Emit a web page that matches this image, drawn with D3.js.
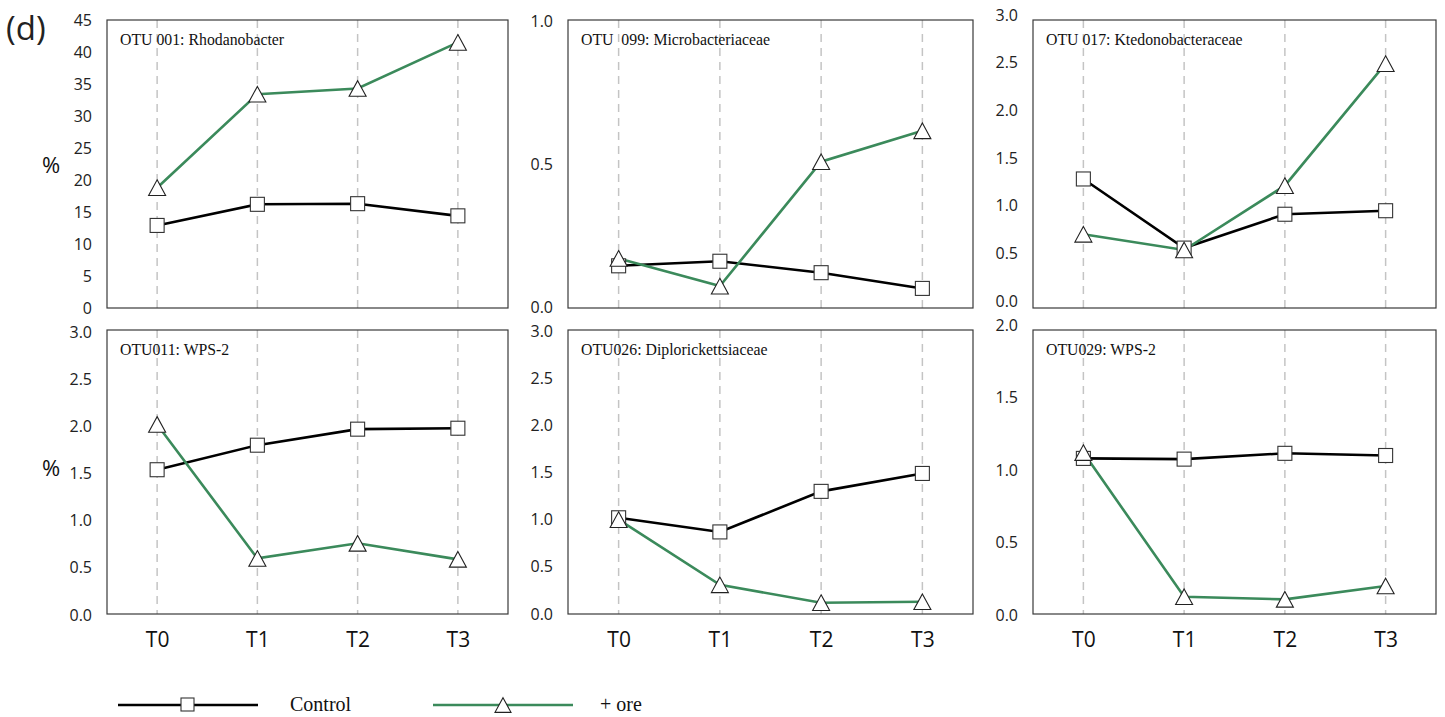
<!DOCTYPE html>
<html>
<head>
<meta charset="utf-8">
<script src="https://cdn.jsdelivr.net/npm/d3@7"></script>
<style>
  html, body { margin: 0; padding: 0; background: #fff; }
  svg { display: block; }
</style>
</head>
<body>
<svg id="chart" width="1445" height="717"></svg>
<script>
// ---------- data ----------
const timePoints = ["T0", "T1", "T2", "T3"];
const panelTitles = [
  "OTU 001: Rhodanobacter",
  "OTU  099: Microbacteriaceae",
  "OTU 017: Ktedonobacteraceae",
  "OTU011: WPS-2",
  "OTU026: Diplorickettsiaceae",
  "OTU029: WPS-2"
];
const controlOTU001 = [12.9, 16.2, 16.3, 14.4];
const oreOTU001     = [18.8, 33.4, 34.3, 41.5];
const controlOTU099 = [0.144, 0.160, 0.120, 0.065];
const oreOTU099     = [0.170, 0.073, 0.508, 0.616];
const controlOTU017 = [1.28, 0.555, 0.91, 0.947];
const oreOTU017     = [0.70, 0.535, 1.21, 2.49];
const controlOTU011 = [1.54, 1.80, 1.97, 1.98];
const oreOTU011     = [2.02, 0.60, 0.76, 0.59];
const controlOTU026 = [1.02, 0.87, 1.30, 1.49];
const oreOTU026     = [1.00, 0.31, 0.12, 0.13];
const controlOTU029 = [1.08, 1.075, 1.115, 1.10];
const oreOTU029     = [1.12, 0.126, 0.108, 0.20];
const yMaxes   = [45, 1, 3, 3, 3, 2];
const yTicks = [
  [0, 5, 10, 15, 20, 25, 30, 35, 40, 45],
  [0, 0.5, 1],
  [0, 0.5, 1, 1.5, 2, 2.5, 3],
  [0, 0.5, 1, 1.5, 2, 2.5, 3],
  [0, 0.5, 1, 1.5, 2, 2.5, 3],
  [0, 0.5, 1, 1.5, 2]
];
const seriesNames = ["Control", "+ ore"];
const controlSets = [controlOTU001, controlOTU099, controlOTU017, controlOTU011, controlOTU026, controlOTU029];
const oreSets     = [oreOTU001, oreOTU099, oreOTU017, oreOTU011, oreOTU026, oreOTU029];

// ---------- layout ----------
const colX = [[107, 508], [568, 973], [1033, 1436]];
const rowY = [[20, 308], [330, 614]];
// pixel positions of y-axis min and max for each panel (as drawn in the source)
const yPix = [[308, 20], [307, 21], [301, 15], [615, 332], [614, 331], [615, 325]];
const GREEN = "#3b8a5b";
const AXIS_FONT = "'Open Sans', 'Noto Sans', sans-serif";
const SERIF = "'Liberation Serif', 'Times New Roman', serif";

const svg = d3.select("#chart");

function trianglePath(s) {
  const w = s, h = s * 0.92;
  return `M0,${-h/2}L${w/2},${h/2}L${-w/2},${h/2}Z`;
}

for (let i = 0; i < 6; i++) {
  const col = i % 3, row = Math.floor(i / 3);
  const [x0, x1] = colX[col];
  const [y0, y1] = rowY[row];
  const g = svg.append("g");

  const x = d3.scalePoint().domain(timePoints).range([x0, x1]).padding(0.5);
  const y = d3.scaleLinear().domain([0, yMaxes[i]]).range(yPix[i]);

  // dashed vertical gridlines
  g.selectAll(".grid").data(timePoints).join("line")
    .attr("x1", d => x(d)).attr("x2", d => x(d))
    .attr("y1", y0).attr("y2", y1)
    .attr("stroke", "#c4c4c4").attr("stroke-width", 1.5)
    .attr("stroke-dasharray", "8,6");

  // frame
  g.append("rect").attr("x", x0).attr("y", y0)
    .attr("width", x1 - x0).attr("height", y1 - y0)
    .attr("fill", "none").attr("stroke", "#3a3a3a").attr("stroke-width", 1.2);

  // y axis labels
  const yAxis = d3.axisLeft(y).tickValues(yTicks[i]).tickSize(0).tickPadding(0)
    .tickFormat(yMaxes[i] > 5 ? d3.format("d") : d3.format(".1f"));
  const ya = g.append("g").attr("transform", `translate(${x0 - 15},0)`).call(yAxis);
  ya.select(".domain").remove();
  ya.selectAll("text").attr("font-family", AXIS_FONT).attr("font-size", 16).attr("fill", "#222");

  // x axis labels (bottom row only)
  if (row === 1) {
    const xAxis = d3.axisBottom(x).tickSize(0).tickPadding(0);
    const xa = g.append("g").attr("transform", `translate(0,${y1 + 18})`).call(xAxis);
    xa.select(".domain").remove();
    xa.selectAll("text").attr("font-family", AXIS_FONT).attr("font-size", 21).attr("fill", "#111");
  }

  // title
  g.append("text").attr("x", x0 + 13).attr("y", y0 + 25)
    .attr("font-family", SERIF).attr("font-size", 15.8).attr("fill", "#111")
    .attr("xml:space", "preserve")
    .text(panelTitles[i]);

  const line = d3.line().x((d, k) => x(timePoints[k])).y(d => y(d));

  // control series
  g.append("path").datum(controlSets[i]).attr("d", line)
    .attr("fill", "none").attr("stroke", "#000").attr("stroke-width", 2.6);
  // ore series line
  g.append("path").datum(oreSets[i]).attr("d", line)
    .attr("fill", "none").attr("stroke", GREEN).attr("stroke-width", 2.6);

  g.selectAll(".sq").data(controlSets[i]).join("rect")
    .attr("x", (d, k) => x(timePoints[k]) - 7).attr("y", d => y(d) - 7)
    .attr("width", 14).attr("height", 14)
    .attr("fill", "#fff").attr("stroke", "#333").attr("stroke-width", 1.1);

  g.selectAll(".tri").data(oreSets[i]).join("path")
    .attr("d", trianglePath(17))
    .attr("transform", (d, k) => `translate(${x(timePoints[k])},${y(d)})`)
    .attr("fill", "#fff").attr("stroke", "#222").attr("stroke-width", 1.1);
}

// % labels
[167, 470].forEach(yy => {
  svg.append("text").attr("x", 51).attr("y", yy).attr("text-anchor", "middle")
    .attr("dominant-baseline", "middle")
    .attr("font-family", AXIS_FONT).attr("font-size", 22).attr("fill", "#111").text("%");
});

// (d) label
svg.append("text").attr("x", 6).attr("y", 40)
  .attr("font-family", AXIS_FONT).attr("font-size", 33).attr("fill", "#222").text("(d)");

// legend
const legend = svg.append("g");
const legItems = [
  { name: seriesNames[0], color: "#000", marker: "square", lx: 118, tx: 290 },
  { name: seriesNames[1], color: GREEN, marker: "triangle", lx: 433, tx: 600 }
];
legItems.forEach(it => {
  const ly = 705;
  legend.append("line").attr("x1", it.lx).attr("x2", it.lx + 140)
    .attr("y1", ly).attr("y2", ly).attr("stroke", it.color).attr("stroke-width", 2.4);
  if (it.marker === "square") {
    legend.append("rect").attr("x", it.lx + 70 - 7).attr("y", ly - 7)
      .attr("width", 13).attr("height", 13).attr("fill", "#fff").attr("stroke", "#333").attr("stroke-width", 1.1);
  } else {
    legend.append("path").attr("d", trianglePath(16))
      .attr("transform", `translate(${it.lx + 70},${ly})`)
      .attr("fill", "#fff").attr("stroke", "#222").attr("stroke-width", 1.1);
  }
  legend.append("text").attr("x", it.tx).attr("y", ly + 6)
    .attr("font-family", SERIF).attr("font-size", 20).attr("fill", "#111").text(it.name);
});
</script>
</body>
</html>
